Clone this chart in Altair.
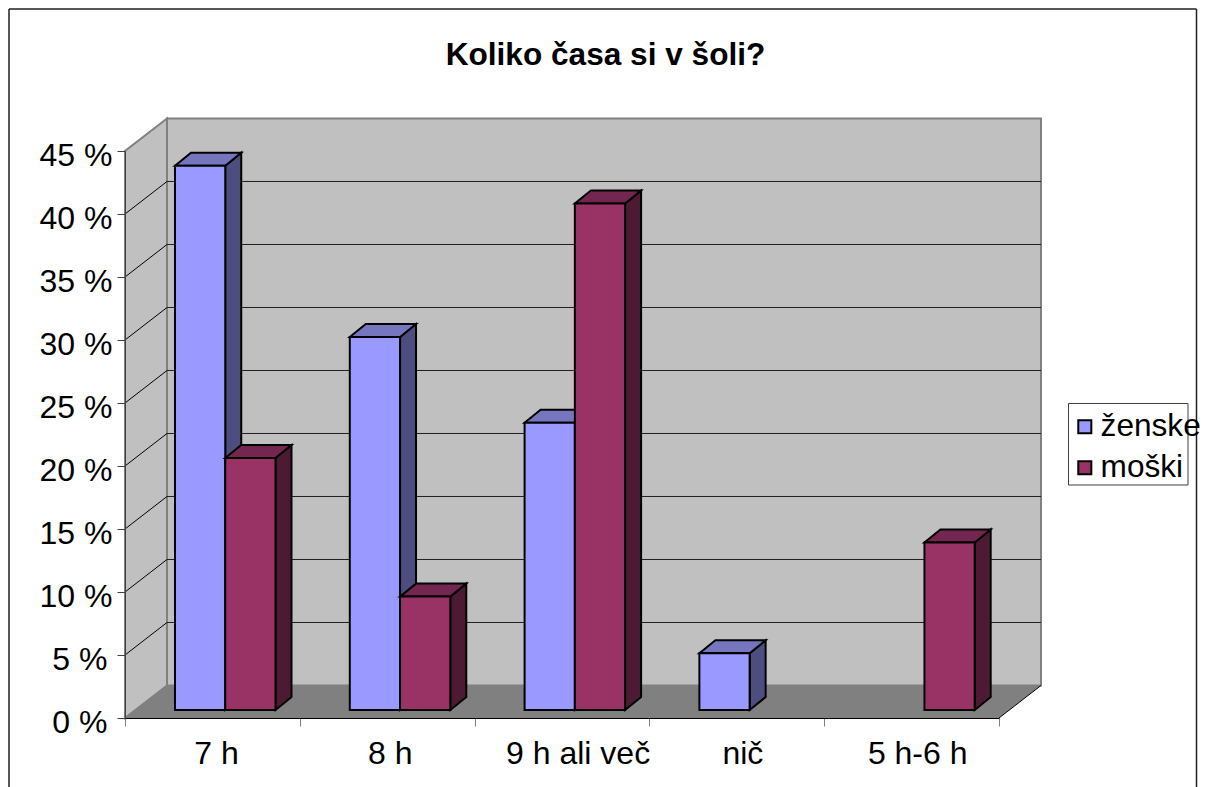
import altair as alt
import pandas as pd

TITLE = "Koliko časa si v šoli?"
categories = ["7 h", "8 h", "9 h ali več", "nič", "5 h-6 h"]
series_names = ["ženske", "moški"]
zenske = [43.2, 29.6, 22.8, 4.5, None]
moski = [20.0, 9.0, 40.2, None, 13.3]
y_ticks = [0, 5, 10, 15, 20, 25, 30, 35, 40, 45]

front_colors = ["#9999FF", "#993366"]
top_colors = ["#7676BF", "#732650"]
side_colors = ["#4D4D80", "#4D1A33"]
FONT = "Liberation Sans"

# 3D projection expressed in data units
DX, DY = 0.2403, 2.58          # depth of the box
BDX, BDY = 0.0915, 1.03        # depth of a bar
BASE = 0.635                   # bar floor level
GAP, BW = 0.286, 0.2875        # category gap, bar width
n = len(categories)

xs = alt.Scale(domain=[0, 5], range=[117, 991], nice=False, zero=False)
ys = alt.Scale(domain=[0, 45], range=[710, 143], nice=False, zero=False)

x_axis = alt.Axis(
    values=list(range(n + 1)), title=None, grid=False, offset=-69,
    labelExpr="[" + ",".join(repr(c) for c in categories) + "][datum.value] || ''",
    labelOffset={
        "condition": [
            {"test": "datum.value == 0", "value": 91},
            {"test": "datum.value == 1", "value": 90},
            {"test": "datum.value == 2", "value": 103},
        ],
        "value": 93,
    },
    labelFont=FONT, labelFontSize=32, labelColor="#000000",
    labelPadding=12, labelBound=False, labelFlush=False, labelOverlap=False,
    tickSize=8, tickColor="#808080", tickWidth=1, domainColor="#000000",
    domainWidth=1, zindex=1,
)
y_axis = alt.Axis(
    values=y_ticks, title=None, grid=False, offset=-117,
    labelExpr="datum.value + ' %'", labelFont=FONT, labelFontSize=32,
    labelColor="#000000", labelOffset=4,
    labelPadding={"condition": {"test": "datum.value < 10", "value": 10}, "value": 5},
    labelOverlap=False, labelBound=False,
    tickSize=8, tickColor="#404040", tickWidth=1, domainColor="#404040",
    domainWidth=1, zindex=1,
)
X = lambda f: alt.X(f, type="quantitative", scale=xs, axis=x_axis)
Y = lambda f: alt.Y(f, type="quantitative", scale=ys, axis=y_axis)

# --- box: back wall, left wall, floor
back = alt.Chart(pd.DataFrame({"x": [DX], "x2": [5 + DX], "y": [DY], "y2": [45 + DY]})).mark_rect(
    fill="#C0C0C0", stroke="#808080", strokeWidth=2
).encode(x=X("x"), x2="x2:Q", y=Y("y"), y2="y2:Q")
left_wall = alt.Chart(pd.DataFrame({"x": [0, DX], "y": [0, DY], "y2": [45, 45 + DY]})).mark_area(
    fill="#C0C0C0", stroke="#808080", strokeWidth=2, orient="vertical"
).encode(x=X("x"), y=Y("y"), y2="y2:Q")
floor = alt.Chart(pd.DataFrame({"y": [0, DY], "x": [0, DX], "x2": [5, 5 + DX]})).mark_area(
    fill="#808080", orient="horizontal"
).encode(y=Y("y"), x=X("x"), x2="x2:Q")

levels = [v for v in y_ticks if 0 < v < 45]
grid_back = alt.Chart(pd.DataFrame({"x": DX, "x2": 5 + DX, "y": [v + DY for v in levels]})).mark_rule(
    color="#202020", strokeWidth=1
).encode(x=X("x"), x2="x2:Q", y=Y("y"))

diag_rows = []
for v in levels:
    diag_rows += [{"l": v, "x": 0, "y": v}, {"l": v, "x": DX, "y": v + DY}]
grid_left = alt.Chart(pd.DataFrame(diag_rows)).mark_line(color="#000000", strokeWidth=1).encode(
    x=X("x"), y=Y("y"), detail="l:N", order="x:Q"
)
floor_edge = alt.Chart(pd.DataFrame({"x": [5, 5 + DX], "y": [0, DY]})).mark_line(
    color="#000000", strokeWidth=1
).encode(x=X("x"), y=Y("y"))

# --- bars
legend = alt.Legend(
    orient="none", legendX=1061, legendY=403, title=None, symbolType="square",
    symbolSize=170, symbolStrokeColor="#000000", symbolStrokeWidth=2, symbolOpacity=1,
    labelFont=FONT, labelFontSize=31.6, labelColor="#000000", labelLimit=200,
    labelOffset=0, rowPadding=8, padding=0,
)
color = alt.Color(
    "s:N", scale=alt.Scale(domain=series_names, range=front_colors), legend=legend
)

bar_layers = []
for si, (name, vals) in enumerate(zip(series_names, [zenske, moski])):
    side, top, front = [], [], []
    for ci, v in enumerate(vals):
        if v is None:
            continue
        x0 = ci + GAP + si * BW
        x1 = x0 + BW
        t = v + BASE
        side += [
            {"b": ci, "x": x1, "y": BASE, "y2": t},
            {"b": ci, "x": x1 + BDX, "y": BASE + BDY, "y2": t + BDY},
        ]
        top += [
            {"b": ci, "y": t, "x": x0, "x2": x1},
            {"b": ci, "y": t + BDY, "x": x0 + BDX, "x2": x1 + BDX},
        ]
        front.append({"s": name, "x": x0, "x2": x1, "y": BASE, "y2": t})
    bar_layers.append(
        alt.Chart(pd.DataFrame(side)).mark_area(
            fill=side_colors[si], stroke="#000000", strokeWidth=2, orient="vertical"
        ).encode(x=X("x"), y=Y("y"), y2="y2:Q", detail="b:N")
    )
    bar_layers.append(
        alt.Chart(pd.DataFrame(top)).mark_area(
            fill=top_colors[si], stroke="#000000", strokeWidth=2, orient="horizontal"
        ).encode(y=Y("y"), x=X("x"), x2="x2:Q", detail="b:N")
    )
    bar_layers.append(
        alt.Chart(pd.DataFrame(front)).mark_rect(
            stroke="#000000", strokeWidth=2
        ).encode(x=X("x"), x2="x2:Q", y=Y("y"), y2="y2:Q", color=color)
    )

# --- chart frame (left, top, right; the bottom edge is cut off in the picture)
frame_l = alt.Chart(pd.DataFrame({"f": [0]})).mark_rule(color="#202020", strokeWidth=1.5).encode(
    x=alt.value(1), y=alt.value(1), y2=alt.value(779),
)
frame_r = alt.Chart(pd.DataFrame({"f": [0]})).mark_rule(color="#202020", strokeWidth=1.5).encode(
    x=alt.value(1188.5), y=alt.value(1), y2=alt.value(779),
)
frame_t = alt.Chart(pd.DataFrame({"f": [0]})).mark_rule(color="#202020", strokeWidth=1.5).encode(
    x=alt.value(1), x2=alt.value(1188.5), y=alt.value(1),
)
legend_box = alt.Chart(pd.DataFrame({"f": [0]})).mark_rect(
    fill="#FFFFFF", stroke="#404040", strokeWidth=1
).encode(x=alt.value(1060.5), x2=alt.value(1180), y=alt.value(395.5), y2=alt.value(477))

chart = alt.layer(
    back, left_wall, floor, grid_back, grid_left, floor_edge,
    *bar_layers, frame_l, frame_r, frame_t, legend_box,
).properties(
    width=1193, height=779, padding=0, autosize=alt.AutoSizeParams(type="none"),
    title=alt.TitleParams(
        TITLE, font=FONT, fontSize=31.6, fontWeight="bold", color="#000000",
        anchor="middle", dx=1, dy=89, offset=0, baseline="alphabetic",
    ),
).configure_view(stroke=None)

chart.save("out.html", embed_options={"renderer": "svg", "actions": False})
